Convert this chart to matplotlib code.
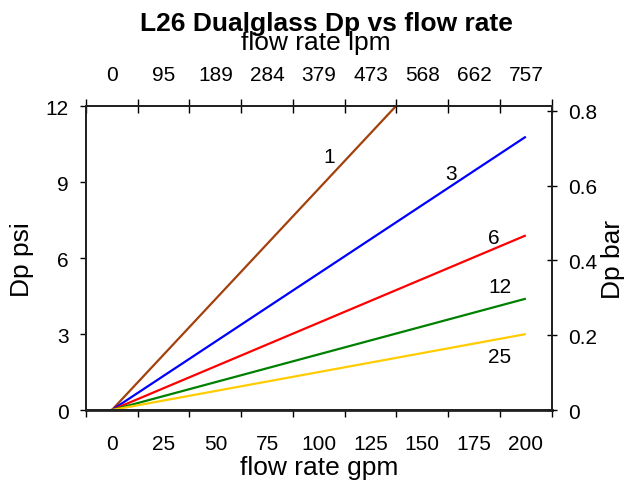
import numpy as np
import matplotlib
matplotlib.use("Agg")
import matplotlib.pyplot as plt

plt.rcParams['font.family'] = ['Liberation Sans', 'DejaVu Sans']

# flow rate (gpm) and pressure drop (psi) per micron rating
flow_gpm = [0, 200]
series_names = ['1', '3', '6', '12', '25']
dp_psi = {
    '1': [0, 17.5],
    '3': [0, 10.8],
    '6': [0, 6.9],
    '12': [0, 4.4],
    '25': [0, 3.0],
}
series_colors = ['#a3410d', '#0000ff', '#ff0000', '#008000', '#ffcc00']

gpm_ticks = [0, 25, 50, 75, 100, 125, 150, 175, 200]
lpm_labels = ['0', '95', '189', '284', '379', '473', '568', '662', '757']
psi_ticks = [0, 3, 6, 9, 12]
bar_ticks = [0, 0.2, 0.4, 0.6, 0.8]
bar_labels = ['0', '0.2', '0.4', '0.6', '0.8']

fig = plt.figure(figsize=(6.26, 4.81), dpi=100)
ax = fig.add_axes([0.1374, 0.1455, 0.7439, 0.6314])

for name, color in zip(series_names, series_colors):
    ax.plot(flow_gpm, dp_psi[name], color=color, lw=1.6, solid_capstyle='butt')

# curve labels
label_pos = {'1': (105, 10.0), '3': (164, 9.35), '6': (184.5, 6.8),
             '12': (187.5, 4.9), '25': (187.5, 2.1)}
for name in series_names:
    x, y = label_pos[name]
    ax.text(x, y, name, fontsize=15, ha='center', va='center')

ax.set_xlim(-12.5, 212.5)
ax.set_ylim(0, 12)

ax.set_xticks(gpm_ticks)
ax.set_xticklabels([str(t) for t in gpm_ticks])
ax.set_xticks(np.arange(-12.5, 213, 25), minor=True)
ax.tick_params(axis='x', which='major', length=0, pad=17, labelsize=15)
ax.tick_params(axis='x', which='minor', length=4.8, width=1, direction='out')
ax.set_yticks(psi_ticks)
ax.tick_params(axis='y', which='major', length=4.5, width=1, direction='out',
               pad=8, labelsize=15)

ax.set_xlabel('flow rate gpm', fontsize=19, labelpad=2)
ax.set_ylabel('Dp psi', fontsize=19, labelpad=8)

# top axis in lpm
axt = ax.twiny()
axt.set_xlim(ax.get_xlim())
axt.set_xticks(gpm_ticks)
axt.set_xticklabels(lpm_labels)
axt.set_xticks(np.arange(-12.5, 213, 25), minor=True)
axt.tick_params(axis='x', which='major', length=0, pad=16, labelsize=15)
axt.tick_params(axis='x', which='minor', length=10, width=1, direction='inout')

# right axis in bar
axr = ax.twinx()
axr.set_ylim(0, 0.812)
axr.set_yticks(bar_ticks)
axr.set_yticklabels(bar_labels)
axr.tick_params(axis='y', length=7, width=1, direction='inout', pad=8, labelsize=15)
axr.set_ylabel('Dp bar', fontsize=19, labelpad=3)

for a in (ax, axt, axr):
    for s in a.spines.values():
        s.set_linewidth(1.2)
        s.set_color('#222222')
ax.spines['bottom'].set_linewidth(2)

fig.text(0.521, 0.935, 'L26 Dualglass Dp vs flow rate', fontsize=19,
         fontweight='bold', ha='center', va='baseline')
fig.text(0.505, 0.8955, 'flow rate lpm', fontsize=19, ha='center', va='baseline')

fig.savefig('out.png', dpi=100)
